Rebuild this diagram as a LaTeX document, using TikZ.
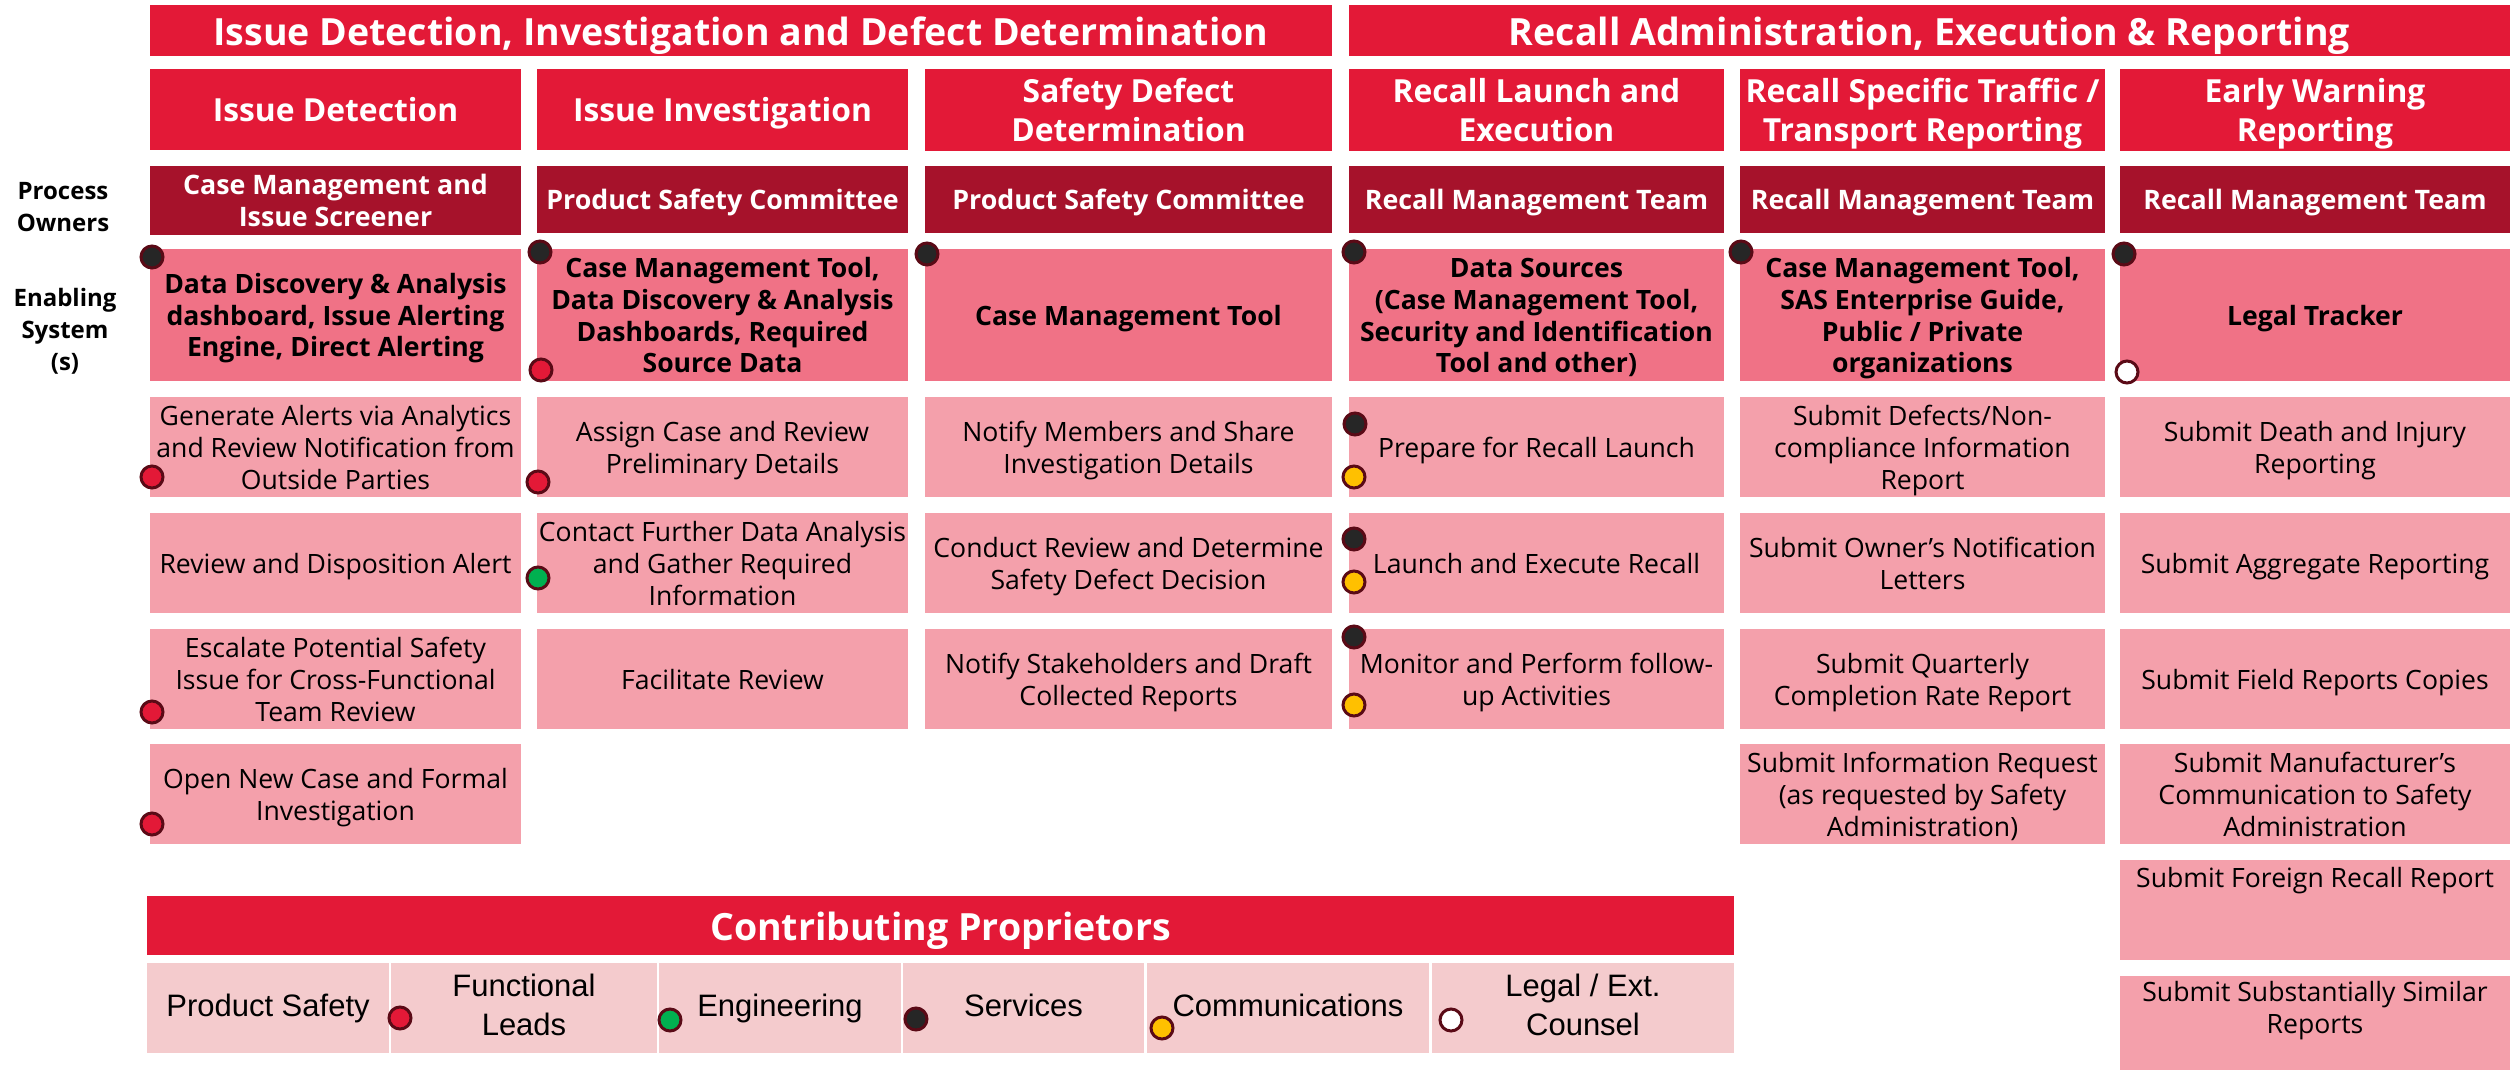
\documentclass[tikz,border=0pt]{standalone}
\usepackage{fontspec}
\setmainfont{Open Sans}
\newfontfamily\legendfont{Liberation Sans}
\definecolor{hdr}{HTML}{E31937}
\definecolor{own}{HTML}{A6122B}
\definecolor{enab}{HTML}{F07286}
\definecolor{task}{HTML}{F4A0AB}
\definecolor{leg}{HTML}{F4CBCD}
\definecolor{rim}{HTML}{5A0A16}
\definecolor{dkdot}{HTML}{262626}
\definecolor{grdot}{HTML}{00B050}
\definecolor{yldot}{HTML}{FFC000}
\newcommand\mycell[7]{\node[#6, text width=#4pt, minimum width=#4pt, minimum height=#5pt] (#1) at (#2,#3) {#7};}
\newcommand\fullline[1]{\makebox[\linewidth]{#1}}
\begin{document}
\begin{tikzpicture}[x=1pt,y=-1pt,
  osstrut/.style={execute at begin node={\rule{0pt}{1.069em}}, execute at end node={\rule[-0.293em]{0pt}{0pt}}},
  lsstrut/.style={execute at begin node={\rule{0pt}{0.75em}}, execute at end node={\rule[-0.22em]{0pt}{0pt}}},
  box/.style={anchor=north west, inner sep=0pt, outer sep=0pt, align=flush center},
  hdrbox/.style={box, osstrut, fill=hdr, text=white, font=\bfseries\fontsize{37.5}{44}\selectfont},
  subbox/.style={box, osstrut, fill=hdr, text=white, font=\bfseries\fontsize{31.8}{38.5}\selectfont},
  ownbox/.style={box, osstrut, fill=own, text=white, font=\bfseries\fontsize{26.8}{32}\selectfont},
  enbox/.style={box, osstrut, fill=enab, text=black, font=\bfseries\fontsize{26.6}{31.6}\selectfont},
  taskbox/.style={box, osstrut, fill=task, text=black, font=\fontsize{26.6}{31.7}\selectfont},
  plainbox/.style={box, fill=task},
  tasktext/.style={osstrut, inner sep=0pt, align=flush center, text width=380pt, text=black, font=\fontsize{26.6}{31.7}\selectfont},
  legbox/.style={box, lsstrut, fill=leg, text=black, font=\legendfont\fontsize{31}{38.5}\selectfont},
  rowlabel/.style={osstrut, inner sep=0pt, align=flush center, text width=124pt, text=black, font=\bfseries\fontsize{24}{32}\selectfont},
  dot/.style={circle, inner sep=0pt, minimum size=22pt, line width=3pt, draw=rim},
]
\clip (0,0) rectangle (2511,1069);
\fill[white] (0,0) rectangle (2511,1069);

% top headers
\mycell{h1}{150}{5}{1182}{48}{hdrbox}{Issue Detection, Investigation and Defect Determination}
\mycell{h2}{1349}{5}{1161}{48}{hdrbox}{Recall Administration, Execution \& Reporting}

% phase headers
\mycell{p1}{150}{69}{371}{81}{subbox}{Issue Detection}
\mycell{p2}{537}{69}{371}{81}{subbox}{Issue Investigation}
\mycell{p3}{925}{69}{407}{81}{subbox}{Safety Defect\\Determination}
\mycell{p4}{1349}{69}{375}{81}{subbox}{Recall Launch and\\Execution}
\mycell{p5}{1740}{69}{365}{81}{subbox}{Recall Specific Traffic /\\Transport Reporting}
\mycell{p6}{2120}{69}{390}{81}{subbox}{Early Warning\\Reporting}

% row labels
\node[rowlabel] (lblown) at (63,206.5) {Process\\Owners};
\node[rowlabel] (lblen) at (65,329) {Enabling\\System\\(s)};

% owners
\mycell{o1}{150}{166}{371}{67}{ownbox}{Case Management and\\Issue Screener}
\mycell{o2}{537}{166}{371}{67}{ownbox}{Product Safety Committee}
\mycell{o3}{925}{166}{407}{67}{ownbox}{Product Safety Committee}
\mycell{o4}{1349}{166}{375}{67}{ownbox}{Recall Management Team}
\mycell{o5}{1740}{166}{365}{67}{ownbox}{Recall Management Team}
\mycell{o6}{2120}{166}{390}{67}{ownbox}{Recall Management Team}

% enabling systems
\mycell{e1}{150}{249}{371}{132}{enbox}{Data Discovery \& Analysis\\dashboard, Issue Alerting\\Engine, Direct Alerting}
\mycell{e2}{537}{249}{371}{132}{enbox}{Case Management Tool,\\Data Discovery \& Analysis\\Dashboards, Required\\Source Data}
\mycell{e3}{925}{249}{407}{132}{enbox}{Case Management Tool}
\mycell{e4}{1349}{249}{375}{132}{enbox}{Data Sources\\(Case Management Tool,\\\fullline{Security and Identification}\\Tool and other)}
\mycell{e5}{1740}{249}{365}{132}{enbox}{Case Management Tool,\\SAS Enterprise Guide,\\Public / Private\\organizations}
\mycell{e6}{2120}{249}{390}{132}{enbox}{Legal Tracker}

% column 1 tasks
\mycell{t11}{150}{397}{371}{100}{taskbox}{Generate Alerts via Analytics\\\fullline{and Review Notification from}\\Outside Parties}
\mycell{t12}{150}{513}{371}{100}{taskbox}{Review and Disposition Alert}
\mycell{t13}{150}{629}{371}{100}{taskbox}{Escalate Potential Safety\\Issue for Cross-Functional\\Team Review}
\mycell{t14}{150}{744}{371}{100}{taskbox}{Open New Case and Formal\\Investigation}
% column 2
\mycell{t21}{537}{397}{371}{100}{taskbox}{Assign Case and Review\\Preliminary Details}
\mycell{t22}{537}{513}{371}{100}{taskbox}{\fullline{Contact Further Data Analysis}\\and Gather Required\\Information}
\mycell{t23}{537}{629}{371}{100}{taskbox}{Facilitate Review}
% column 3
\mycell{t31}{925}{397}{407}{100}{taskbox}{Notify Members and Share\\Investigation Details}
\mycell{t32}{925}{513}{407}{100}{taskbox}{\fullline{Conduct Review and Determine}\\Safety Defect Decision}
\mycell{t33}{925}{629}{407}{100}{taskbox}{Notify Stakeholders and Draft\\Collected Reports}
% column 4
\mycell{t41}{1349}{397}{375}{100}{taskbox}{Prepare for Recall Launch}
\mycell{t42}{1349}{513}{375}{100}{taskbox}{Launch and Execute Recall}
\mycell{t43}{1349}{629}{375}{100}{taskbox}{\fullline{Monitor and Perform follow-}\\up Activities}
% column 5
\mycell{t51}{1740}{397}{365}{100}{taskbox}{Submit Defects/Non-\\compliance Information\\Report}
\mycell{t52}{1740}{513}{365}{100}{taskbox}{\fullline{Submit Owner’s Notification}\\Letters}
\mycell{t53}{1740}{629}{365}{100}{taskbox}{Submit Quarterly\\Completion Rate Report}
\mycell{t54}{1740}{744}{365}{100}{taskbox}{\fullline{Submit Information Request}\\(as requested by Safety\\Administration)}
% column 6
\mycell{t61}{2120}{397}{390}{100}{taskbox}{Submit Death and Injury\\Reporting}
\mycell{t62}{2120}{513}{390}{100}{taskbox}{Submit Aggregate Reporting}
\mycell{t63}{2120}{629}{390}{100}{taskbox}{Submit Field Reports Copies}
\mycell{t64}{2120}{744}{390}{100}{taskbox}{Submit Manufacturer’s\\Communication to Safety\\Administration}
\mycell{t65}{2120}{860}{390}{100}{plainbox}{}
\mycell{t66}{2120}{976}{390}{100}{plainbox}{}
\node[tasktext] (t65t) at (2315,877) {Submit Foreign Recall Report};
\node[tasktext] (t66t) at (2315,1007) {Submit Substantially Similar\\Reports};

% contributing proprietors
\mycell{cp}{147}{896}{1587}{59}{hdrbox}{Contributing Proprietors}
\mycell{l1}{147}{963}{242}{90}{legbox}{Product Safety}
\mycell{l2}{391}{963}{266}{90}{legbox}{Functional\\Leads}
\mycell{l3}{659}{963}{242}{90}{legbox}{Engineering}
\mycell{l4}{903}{963}{241}{90}{legbox}{Services}
\mycell{l5}{1147}{963}{282}{90}{legbox}{Communications}
\mycell{l6}{1432}{963}{302}{90}{legbox}{Legal / Ext.\\Counsel}

% dots - enabling row
\node[dot, fill=dkdot] (de1) at (152,257) {};
\node[dot, fill=dkdot] (de2) at (540,252) {};
\node[dot, fill=hdr] (de2b) at (541,370) {};
\node[dot, fill=dkdot] (de3) at (927,254) {};
\node[dot, fill=dkdot] (de4) at (1354,252) {};
\node[dot, fill=dkdot] (de5) at (1741,252) {};
\node[dot, fill=dkdot] (de6) at (2124,254) {};
\node[dot, fill=white] (de6b) at (2127,372) {};
% dots - tasks
\node[dot, fill=hdr] (d11) at (152,477) {};
\node[dot, fill=hdr] (d21) at (538,482) {};
\node[dot, fill=grdot] (d22) at (538,578) {};
\node[dot, fill=hdr] (d13) at (152,712) {};
\node[dot, fill=hdr] (d14) at (152,824) {};
\node[dot, fill=dkdot] (d41a) at (1355,424) {};
\node[dot, fill=yldot] (d41b) at (1354,477) {};
\node[dot, fill=dkdot] (d42a) at (1354,539) {};
\node[dot, fill=yldot] (d42b) at (1354,582) {};
\node[dot, fill=dkdot] (d43a) at (1354,637) {};
\node[dot, fill=yldot] (d43b) at (1354,705) {};
% dots - legend
\node[dot, fill=hdr] (dl2) at (400,1018) {};
\node[dot, fill=grdot] (dl3) at (670,1020) {};
\node[dot, fill=dkdot] (dl4) at (916,1019) {};
\node[dot, fill=yldot] (dl5) at (1162,1028) {};
\node[dot, fill=white] (dl6) at (1451,1020) {};
\end{tikzpicture}
\end{document}
